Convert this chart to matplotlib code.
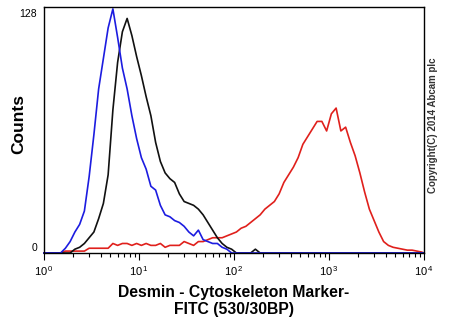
import matplotlib

matplotlib.use('Agg')
import matplotlib.pyplot as plt
import numpy as np

plt.rcParams['font.family'] = ['Liberation Sans', 'DejaVu Sans']
plt.rcParams['mathtext.fontset'] = 'custom'
plt.rcParams['mathtext.rm'] = 'Liberation Sans'

# histogram channels: 80 bins of 0.05 decade from 10^0 to 10^4
bin_edges = np.logspace(0, 4, 81)
bin_centers = np.sqrt(bin_edges[:-1] * bin_edges[1:])

isotype_counts = [
    0, 0, 0, 0, 2.5, 6, 11, 15, 22, 40,
    62, 86, 102, 118, 128, 113, 97, 86, 72, 60,
    50, 44, 35, 33, 25, 20, 19, 17, 16, 14,
    11, 9, 12, 7, 6, 5, 5, 3, 2, 0,
    0, 0, 0, 0, 0, 0, 0, 0, 0, 0,
    0, 0, 0, 0, 0, 0, 0, 0, 0, 0,
    0, 0, 0, 0, 0, 0, 0, 0, 0, 0,
    0, 0, 0, 0, 0, 0, 0, 0, 0, 0,
]
unstained_counts = [
    0, 0, 0, 0, 0, 0, 2, 3, 5, 8,
    11, 18, 26, 41, 75, 100, 116, 123, 114, 103,
    93, 82, 72, 58, 48, 42, 39, 37, 31, 27,
    26, 25, 23, 20, 16, 12, 8, 5, 3, 2,
    0, 0, 0, 0, 2, 0, 0, 0, 0, 0,
    0, 0, 0, 0, 0, 0, 0, 0, 0, 0,
    0, 0, 0, 0, 0, 0, 0, 0, 0, 0,
    0, 0, 0, 0, 0, 0, 0, 0, 0, 0,
]
desmin_counts = [
    0, 0, 0, 0, 1, 1, 1, 1, 1, 2.5,
    2.5, 2.5, 2.5, 2.5, 5, 4, 5, 5, 4, 5,
    4, 5, 4, 4, 5, 3, 4, 4, 4, 6,
    5, 4, 6, 6, 7, 8, 8, 8, 9, 10,
    11, 13, 14, 16, 18, 20, 23, 25, 27, 31,
    37, 41, 45, 50, 57, 61, 65, 69, 69, 64,
    73, 76, 64, 66, 58, 51, 42, 32, 23, 17,
    11, 6, 4, 3, 2.5, 2, 1.5, 1.5, 1, 0.5,
]

fig = plt.figure(figsize=(4.5, 3.3), dpi=100)
ax = fig.add_axes([0.0978, 0.2333, 0.8444, 0.7455])

# zero-count ends are pinned to the outer edges so the baseline spans the axis
for counts, color in [(desmin_counts, '#e0201c'),
                      (unstained_counts, '#111111'),
                      (isotype_counts, '#1c1ce0')]:
    xs = np.concatenate([[bin_edges[0]], bin_centers, [bin_edges[-1]]])
    ys = np.concatenate([[counts[0]], counts, [0]])
    ax.plot(xs, ys, color=color, lw=1.2, clip_on=False)

ax.set_xscale('log')
ax.set_xlim(1, 1e4)
ax.set_ylim(0, 129)

ax.set_xticks([1, 10, 100, 1000, 10000])
ax.set_xticklabels([r'$10^{\,%d}$' % k for k in range(5)], fontsize=8)
ax.tick_params(axis='x', which='major', length=5, width=0.8, direction='out', pad=3)
ax.tick_params(axis='x', which='minor', length=3, width=0.8, direction='out')

ax.set_yticks([0, 128])
ax.set_yticklabels(['0', '128'], fontsize=7.5)
ax.tick_params(axis='y', length=0, pad=5)
ylabels = ax.get_yticklabels()
ylabels[0].set_va('bottom')
ylabels[1].set_va('top')

for spine in ax.spines.values():
    spine.set_linewidth(1.0)

ax.set_xlabel('Desmin - Cytoskeleton Marker-\nFITC (530/30BP)',
              fontsize=11.3, fontweight='bold', labelpad=5, linespacing=1.2)
ax.set_ylabel('Counts', fontsize=12.5, fontweight='bold')
ax.yaxis.set_label_coords(-0.047, 0.524)

fig.text(0.962, 0.62, 'Copyright(C) 2014 Abcam plc', rotation=90,
         fontsize=7, fontweight='bold', color='#333333',
         ha='center', va='center')

fig.savefig('out.png', dpi=100)
